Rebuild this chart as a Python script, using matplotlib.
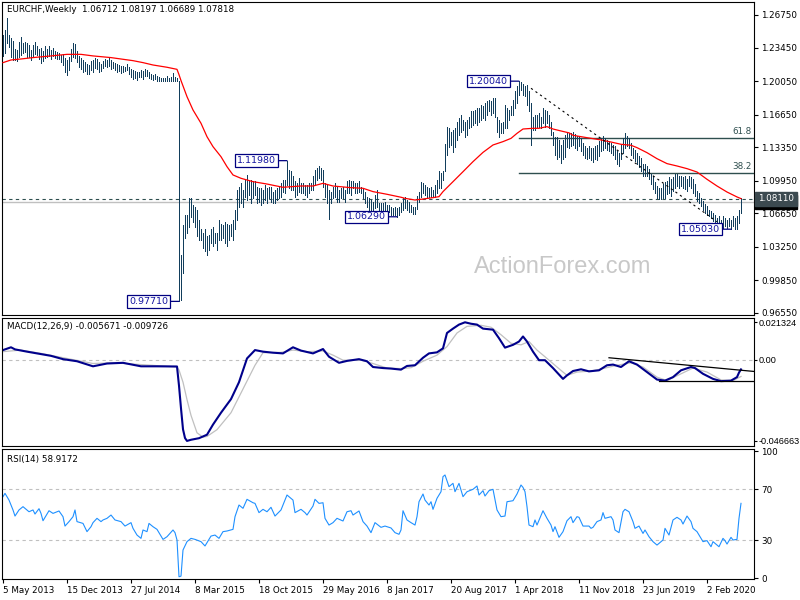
import numpy as np
import pandas as pd
import matplotlib
matplotlib.use("Agg")
import matplotlib.pyplot as plt
import matplotlib.transforms as mtransforms

plt.rcParams["font.family"] = ["DejaVu Sans"]

# weekly EURCHF bars, first bar = week of 5 May 2013
highs = [
    1.247, 1.252, 1.264, 1.247, 1.244, 1.241, 1.233, 1.232, 1.240, 1.245,
    1.239, 1.240, 1.239, 1.237, 1.232, 1.237, 1.240, 1.236, 1.233, 1.234,
    1.231, 1.236, 1.233, 1.236, 1.232, 1.234, 1.231, 1.230, 1.229, 1.227,
    1.228, 1.224, 1.222, 1.225, 1.233, 1.239, 1.238, 1.231, 1.226, 1.224,
    1.222, 1.220, 1.218, 1.217, 1.221, 1.222, 1.224, 1.223, 1.220, 1.218,
    1.221, 1.223, 1.222, 1.224, 1.222, 1.220, 1.219, 1.218, 1.217, 1.216,
    1.216, 1.215, 1.218, 1.215, 1.213, 1.212, 1.211, 1.210, 1.210, 1.212,
    1.211, 1.213, 1.212, 1.210, 1.208, 1.207, 1.208, 1.206, 1.205, 1.204,
    1.2035, 1.204, 1.206, 1.204, 1.205, 1.209, 1.205, 1.2035, 1.2010,
    1.024, 1.055, 1.065, 1.065, 1.082, 1.082, 1.075, 1.073, 1.070, 1.060,
    1.051, 1.046, 1.050, 1.043, 1.044, 1.050, 1.053, 1.046, 1.046, 1.060,
    1.056, 1.055, 1.058, 1.056, 1.055, 1.056, 1.060, 1.070, 1.090, 1.093,
    1.097, 1.090, 1.100, 1.105, 1.100, 1.100, 1.099, 1.099, 1.093, 1.092,
    1.092, 1.090, 1.095, 1.092, 1.093, 1.093, 1.088, 1.090, 1.092, 1.093,
    1.097, 1.100, 1.100, 1.1198, 1.110, 1.109, 1.104, 1.099, 1.097, 1.102,
    1.097, 1.097, 1.095, 1.095, 1.097, 1.097, 1.104, 1.110, 1.112, 1.114,
    1.112, 1.110, 1.097, 1.095, 1.090, 1.088, 1.093, 1.097, 1.093, 1.090,
    1.092, 1.093, 1.090, 1.099, 1.100, 1.099, 1.099, 1.097, 1.097, 1.099,
    1.093, 1.092, 1.088, 1.083, 1.082, 1.080, 1.078, 1.085, 1.090, 1.077,
    1.077, 1.077, 1.078, 1.075, 1.075, 1.073, 1.072, 1.073, 1.072, 1.073,
    1.077, 1.082,
    1.083, 1.080, 1.078, 1.075, 1.073, 1.073, 1.084, 1.088, 1.098, 1.097,
    1.095, 1.093, 1.092, 1.093, 1.090, 1.095, 1.100, 1.109, 1.107, 1.109,
    1.137, 1.154, 1.153, 1.149, 1.151, 1.153, 1.159, 1.163, 1.166, 1.161,
    1.159, 1.161, 1.164, 1.170, 1.170, 1.171, 1.173, 1.173, 1.176, 1.175,
    1.178, 1.180, 1.181, 1.180, 1.183, 1.183, 1.164, 1.161, 1.158, 1.159,
    1.176, 1.173, 1.171, 1.175, 1.181, 1.190, 1.195, 1.2004, 1.200, 1.198,
    1.195, 1.197, 1.190, 1.178, 1.164, 1.166, 1.166, 1.168, 1.164, 1.173,
    1.171, 1.170, 1.166, 1.159, 1.149, 1.144, 1.144, 1.141, 1.136, 1.141,
    1.146, 1.149,
    1.148, 1.148, 1.149, 1.147, 1.145, 1.145, 1.143, 1.138, 1.135, 1.133,
    1.135, 1.133, 1.133, 1.135, 1.136, 1.140, 1.143, 1.145, 1.143, 1.141,
    1.140, 1.138, 1.136, 1.135, 1.130, 1.128, 1.136, 1.143, 1.1475, 1.145,
    1.143, 1.138, 1.133, 1.131, 1.128, 1.125, 1.123, 1.116, 1.116, 1.114,
    1.111, 1.106, 1.104, 1.098, 1.094, 1.092, 1.092, 1.096, 1.098, 1.099,
    1.103, 1.101, 1.103, 1.106, 1.106, 1.104, 1.104, 1.103, 1.104, 1.101,
    1.104, 1.103, 1.101, 1.096, 1.089, 1.087, 1.082, 1.079, 1.076, 1.074,
    1.070, 1.069, 1.067, 1.065, 1.062, 1.064, 1.060, 1.064, 1.062, 1.060,
    1.062, 1.060, 1.064, 1.062, 1.064, 1.070, 1.08197,
]
lows = [
    1.226, 1.229, 1.239, 1.235, 1.225, 1.222, 1.222, 1.221, 1.225, 1.227,
    1.229, 1.230, 1.225, 1.225, 1.222, 1.226, 1.228, 1.227, 1.223, 1.219,
    1.221, 1.224, 1.225, 1.226, 1.223, 1.226, 1.224, 1.223, 1.223, 1.220,
    1.217, 1.210, 1.207, 1.212, 1.221, 1.225, 1.224, 1.220, 1.215, 1.213,
    1.210, 1.211, 1.208, 1.208, 1.212, 1.210, 1.214, 1.213, 1.210, 1.211,
    1.214, 1.216, 1.215, 1.216, 1.213, 1.214, 1.212, 1.210, 1.211, 1.209,
    1.210, 1.211, 1.212, 1.208, 1.205, 1.203, 1.204, 1.202, 1.205, 1.205,
    1.203, 1.206, 1.206, 1.204, 1.203, 1.202, 1.203, 1.2005, 1.2005, 1.2004,
    1.2005, 1.2005, 1.2008, 1.2006, 1.2007, 1.2010, 1.2009, 1.2008, 0.9771,
    0.979, 1.006, 1.041, 1.046, 1.053, 1.063, 1.058, 1.053, 1.043, 1.039,
    1.039, 1.031, 1.028, 1.024, 1.029, 1.036, 1.033, 1.036, 1.029, 1.039,
    1.039, 1.041, 1.036, 1.033, 1.039, 1.043, 1.039, 1.050, 1.060, 1.073,
    1.077, 1.073, 1.083, 1.080, 1.085, 1.077, 1.082, 1.085, 1.077, 1.078,
    1.075, 1.077, 1.080, 1.077, 1.082, 1.078, 1.077, 1.077, 1.080, 1.082,
    1.083, 1.088, 1.087, 1.095, 1.092, 1.090, 1.090, 1.083, 1.085, 1.088,
    1.087, 1.087, 1.085, 1.083, 1.087, 1.090, 1.090, 1.095, 1.100, 1.102,
    1.100, 1.093, 1.083, 1.077, 1.061, 1.077, 1.082, 1.083, 1.078, 1.078,
    1.082, 1.082, 1.078, 1.087, 1.087, 1.085, 1.092, 1.087, 1.087, 1.088,
    1.087, 1.082, 1.077, 1.073, 1.070, 1.070, 1.070, 1.072, 1.073, 1.063,
    1.066, 1.066, 1.068, 1.068, 1.068, 1.065, 1.065, 1.065, 1.0629, 1.065,
    1.068, 1.070,
    1.072, 1.070, 1.068, 1.068, 1.066, 1.066, 1.071, 1.078, 1.083, 1.087,
    1.085, 1.083, 1.083, 1.083, 1.083, 1.083, 1.087, 1.092, 1.092, 1.100,
    1.109, 1.126, 1.134, 1.136, 1.129, 1.134, 1.141, 1.146, 1.149, 1.151,
    1.144, 1.146, 1.153, 1.154, 1.156, 1.158, 1.156, 1.159, 1.161, 1.163,
    1.161, 1.166, 1.170, 1.166, 1.168, 1.164, 1.149, 1.144, 1.148, 1.148,
    1.153, 1.153, 1.161, 1.166, 1.166, 1.173, 1.178, 1.186, 1.191, 1.186,
    1.185, 1.176, 1.170, 1.136, 1.151, 1.151, 1.154, 1.154, 1.153, 1.158,
    1.154, 1.158, 1.153, 1.146, 1.136, 1.126, 1.121, 1.124, 1.117, 1.121,
    1.124, 1.134,
    1.133, 1.135, 1.136, 1.133, 1.131, 1.135, 1.130, 1.126, 1.123, 1.121,
    1.123, 1.120, 1.118, 1.121, 1.120, 1.125, 1.130, 1.131, 1.133, 1.131,
    1.130, 1.128, 1.126, 1.121, 1.116, 1.114, 1.121, 1.128, 1.133, 1.135,
    1.133, 1.126, 1.123, 1.119, 1.116, 1.113, 1.109, 1.104, 1.104, 1.104,
    1.101, 1.096, 1.091, 1.087, 1.082, 1.081, 1.081, 1.082, 1.082, 1.086,
    1.087, 1.084, 1.089, 1.092, 1.094, 1.092, 1.094, 1.092, 1.091, 1.089,
    1.094, 1.092, 1.087, 1.084, 1.079, 1.077, 1.074, 1.070, 1.067, 1.065,
    1.064, 1.062, 1.059, 1.057, 1.054, 1.054, 1.052, 1.052, 1.054, 1.052,
    1.054, 1.0503, 1.054, 1.051, 1.051, 1.057, 1.06689,
]
last_open, last_close = 1.06712, 1.07818
marked_level = 1.0811

# red moving average, read at selected weeks
ma_weeks = [0, 4, 9, 15, 24, 29, 32, 39, 45, 54, 60, 65, 70, 75, 82, 87, 88, 89,
            92, 95, 99, 102, 105, 109, 112, 115, 119, 125, 132, 140, 149, 155, 160,
            165, 174, 180, 185, 192, 199, 201, 206, 210, 215, 218, 220, 225, 230,
            235, 240, 245, 250, 254, 257, 260, 265, 268, 272, 275, 279, 283, 285,
            292, 299, 304, 309, 314, 317, 322, 327, 332, 337, 342, 347, 352, 357,
            362, 367, 369]
ma_values = [1.2192, 1.2219, 1.2229, 1.2243, 1.2260, 1.2270, 1.2276, 1.2276, 1.2260,
             1.2243, 1.2226, 1.2212, 1.2192, 1.2168, 1.2145, 1.2124, 1.2070, 1.2010,
             1.1847, 1.1712, 1.1577, 1.1441, 1.1340, 1.1238, 1.1137, 1.1053, 1.1019,
             1.0985, 1.0961, 1.0928, 1.0941, 1.0941, 1.0968, 1.0941, 1.0924, 1.0918,
             1.0884, 1.0857, 1.0827, 1.0816, 1.0799, 1.0809, 1.0823, 1.0833, 1.0884,
             1.0985, 1.1086, 1.1188, 1.1282, 1.1357, 1.1391, 1.1424, 1.1475, 1.1519,
             1.1526, 1.1526, 1.1543, 1.1519, 1.1499, 1.1480, 1.1455, 1.1431, 1.1408,
             1.1387, 1.1364, 1.1354, 1.1330, 1.1279, 1.1218, 1.1168, 1.1144, 1.1117,
             1.1083, 1.1009, 1.0941, 1.0880, 1.0830, 1.0813]

trend_weeks = [264, 357]
trend_prices = [1.1932, 1.0579]
fib_ratios = [0.618, 0.382]
swing_high_weeks = [142, 258]
swing_low_weeks = [88, 197, 364]

macd_weeks = [0, 4, 6, 12, 19, 24, 30, 37, 45, 52, 60, 69, 77, 87, 88, 89, 90, 91,
              92, 94, 98, 102, 105, 109, 114, 118, 122, 126, 130, 135, 140, 145, 149,
              155, 160, 163, 168, 172, 178, 182, 185, 190, 194, 199, 202, 206, 210,
              213, 217, 220, 222, 225, 228, 231, 234, 237, 240, 245, 248, 251, 255,
              258, 260, 262, 265, 268, 271, 275, 280, 282, 285, 289, 293, 298, 302,
              305, 309, 313, 317, 322, 327, 331, 335, 339, 344, 346, 350, 355, 359,
              364, 367, 368, 369]
macd_values = [0.0054, 0.0070, 0.0058, 0.0045, 0.0031, 0.0021, 0.0002, -0.0010,
               -0.0039, -0.0023, -0.0019, -0.0039, -0.0039, -0.0040, -0.0150, -0.0280,
               -0.0400, -0.0450, -0.046663, -0.0460, -0.0451, -0.0431, -0.0373, -0.0305,
               -0.0227, -0.0130, 0.0006, 0.0054, 0.0045, 0.0039, 0.0035, 0.0070, 0.0051,
               0.0035, 0.0060, 0.0016, -0.0019, -0.0008, 0.0002, -0.0010, -0.0043,
               -0.0049, -0.0052, -0.0058, -0.0037, -0.0033, 0.0010, 0.0035, 0.0041,
               0.0064, 0.0152, 0.0177, 0.0200, 0.021324, 0.0205, 0.0200, 0.0177, 0.0171,
               0.0122, 0.0068, 0.0084, 0.0103, 0.0132, 0.0103, 0.0045, -0.0004, -0.0004,
               -0.0049, -0.0111, -0.0091, -0.0066, -0.0056, -0.0068, -0.0062, -0.0033,
               -0.0029, -0.0043, -0.0010, -0.0029, -0.0072, -0.0115, -0.0121, -0.0101,
               -0.0062, -0.0043, -0.0049, -0.0082, -0.0111, -0.0124, -0.0121, -0.0101,
               -0.0075, -0.005671]
signal_weeks = [0, 9, 19, 32, 45, 55, 69, 87, 88, 90, 92, 94, 97, 100, 102, 107, 114,
                120, 126, 130, 139, 145, 152, 160, 165, 170, 179, 185, 192, 199, 204,
                210, 217, 222, 227, 232, 239, 244, 249, 254, 259, 263, 267, 272, 277,
                282, 287, 294, 300, 307, 314, 320, 327, 332, 339, 345, 352, 359, 365,
                369]
signal_values = [0.0045, 0.0054, 0.0035, 0.0006, -0.0023, -0.0019, -0.0029, -0.0043,
                 -0.0060, -0.0130, -0.0230, -0.0320, -0.0420, -0.0445, -0.0441, -0.0402,
                 -0.0305, -0.0169, -0.0033, 0.0039, 0.0041, 0.0054, 0.0045, 0.0049,
                 0.0025, -0.0004, -0.0004, -0.0023, -0.0049, -0.0052, -0.0047, -0.0010,
                 0.0025, 0.0074, 0.0152, 0.0190, 0.0196, 0.0185, 0.0142, 0.0093, 0.0084,
                 0.0103, 0.0054, 0.0006, -0.0043, -0.0091, -0.0072, -0.0066, -0.0052,
                 -0.0033, -0.0019, -0.0043, -0.0101, -0.0121, -0.0082, -0.0049, -0.0072,
                 -0.0117, -0.0121, -0.009726]
macd_res_weeks, macd_res_values = [303, 376], [0.0010, -0.0069]
macd_sup_weeks, macd_sup_values = [328, 376], [-0.0126, -0.0126]

rsi_weeks = [0, 1, 3, 5, 6, 8, 10, 11, 13, 15, 16, 18, 19, 20, 23, 25, 28, 30, 31, 33,
             35, 36, 37, 40, 42, 44, 45, 47, 49, 50, 52, 54, 56, 59, 61, 64, 65, 67, 69,
             70, 72, 73, 75, 77, 80, 82, 85, 86, 87, 88, 89, 90, 92, 94, 96, 99, 101,
             104, 106, 108, 110, 112, 115, 116, 118, 120, 122, 125, 126, 128, 130, 132,
             134, 136, 139, 141, 142, 145, 146, 149, 151, 152, 155, 156, 158, 160, 161,
             163, 165, 167, 170, 172, 174, 175, 178, 180, 182, 184, 186, 189, 191, 194,
             196, 198, 199, 200, 202, 204, 206, 207, 208, 210, 211, 213, 214, 215, 217,
             219, 220, 221, 223, 225, 226, 228, 230, 232, 235, 237, 238, 240, 241, 243,
             245, 247, 249, 251, 252, 255, 257, 259, 260, 261, 262, 263, 265, 266, 267,
             270, 272, 274, 275, 276, 278, 280, 282, 284, 285, 287, 288, 290, 293, 294,
             295, 297, 299, 300, 301, 304, 305, 306, 308, 310, 311, 313, 315, 316, 318,
             320, 321, 323, 325, 327, 330, 331, 333, 335, 337, 339, 340, 342, 344, 345,
             347, 349, 350, 352, 354, 355, 357, 358, 360, 361, 362, 364, 365, 367, 368,
             369]
rsi_values = [64.2, 66.8, 61.5, 53.7, 48.9, 53.7, 56.3, 55.0, 52.3, 53.7, 50.5, 54.7,
              51.0, 45.2, 53.1, 51.0, 52.9, 48.4, 41.0, 44.5, 48.4, 53.7, 44.5, 43.1,
              36.6, 40.5, 43.7, 47.1, 44.5, 45.8, 47.1, 49.7, 45.8, 44.5, 41.0, 43.7,
              39.2, 33.9, 31.3, 37.9, 36.6, 43.1, 40.5, 38.4, 30.5, 32.6, 37.9, 35.8,
              30.0, 1.0, 1.5, 22.1, 28.7, 31.3, 30.5, 28.7, 25.3, 33.1, 33.9, 31.3, 36.6,
              37.1, 38.4, 48.4, 57.6, 55.0, 62.1, 59.4, 58.9, 51.6, 54.2, 52.3, 55.8,
              48.9, 53.7, 61.5, 65.5, 61.5, 51.6, 54.2, 51.6, 49.7, 56.8, 62.1, 58.9,
              59.4, 47.1, 41.8, 43.7, 47.1, 45.0, 52.3, 53.1, 49.7, 52.9, 44.5, 41.0,
              35.8, 43.7, 40.0, 41.0, 39.5, 35.8, 34.5, 37.9, 53.1, 45.8, 43.7, 41.8,
              48.4, 60.2, 66.3, 61.5, 57.6, 60.2, 54.2, 62.9, 68.1, 80.0, 81.3, 72.1,
              74.7, 68.1, 74.7, 64.2, 68.1, 70.0, 72.6, 65.5, 68.9, 64.7, 68.9, 70.0,
              53.7, 48.4, 48.9, 60.2, 61.0, 66.3, 73.4, 71.5, 68.1, 56.3, 41.8, 40.5,
              45.8, 41.8, 53.1, 47.1, 41.8, 36.6, 40.5, 32.1, 36.6, 45.2, 48.4, 43.7,
              48.4, 47.9, 41.0, 41.0, 39.2, 40.0, 44.5, 45.8, 51.6, 47.1, 48.4, 45.8,
              37.9, 35.8, 52.3, 54.2, 52.3, 44.5, 39.2, 41.0, 35.2, 37.9, 32.6, 28.7,
              26.0, 30.0, 39.2, 33.9, 45.8, 47.9, 45.8, 42.6, 48.9, 44.5, 39.2, 36.6,
              31.3, 28.7, 29.5, 24.7, 28.7, 26.0, 24.7, 31.3, 29.5, 26.8, 32.1, 30.0,
              30.5, 47.1, 58.9172]

price_ticks = [1.26750, 1.23450, 1.20050, 1.16650, 1.13350, 1.09950, 1.06650,
               1.03250, 0.99850, 0.96550]
macd_ticks = [0.021324, 0.0, -0.046663]
macd_tick_labels = ["0.021324", "0.00", "-0.046663"]
rsi_ticks = [100, 70, 30, 0]
rsi_levels = [70, 30]

weeks = np.arange(len(highs))
dates = pd.date_range("2013-05-05", periods=len(highs), freq="7D")
date_ticks = weeks[::32]

bar_color = "#123e5c"
navy = "#000080"
small = 6.3

fig = plt.figure(figsize=(8, 6), dpi=100)
ax = fig.add_axes([0.0025, 0.47417, 0.94, 0.5225])
ax_macd = fig.add_axes([0.0025, 0.25667, 0.94, 0.2125], sharex=ax)
ax_rsi = fig.add_axes([0.0025, 0.03417, 0.94, 0.2175], sharex=ax)

# price panel
ax.axhline(last_close, color="#c0c0c0", lw=1.0, zorder=1)
ax.axhline(marked_level, color="#2f4f4f", lw=0.8, ls=(0, (3, 3)), zorder=1)
ax.vlines(weeks, lows, highs, color=bar_color, lw=0.6, antialiased=False, zorder=2)
ax.plot(ma_weeks, ma_values, color="red", lw=0.9, zorder=3)
ax.plot(trend_weeks, trend_prices, color="black", lw=0.8, ls=(0, (2, 3)), zorder=3)

# fibonacci levels from the 2018 high down to the 2020 low
top_week = swing_high_weeks[-1]
top, bottom = highs[top_week], min(lows[top_week:])
for r in fib_ratios:
    lvl = bottom + r * (top - bottom)
    ax.plot([top_week, 400], [lvl, lvl], color="#2f4f4f", lw=1.0, zorder=1)
    ax.annotate(f"{r * 100:.1f}", xy=(1, lvl),
                xycoords=mtransforms.blended_transform_factory(ax.transAxes, ax.transData),
                xytext=(-2, 2), textcoords="offset pixels", ha="right", va="bottom",
                fontsize=small, color="#2f4f4f")


def swing_label(week, price):
    ax.annotate(f"{price:.5f}", xy=(week, price), xytext=(-11, 0),
                textcoords="offset pixels", ha="right", va="center",
                fontsize=6.8, color="#1414a0", zorder=5,
                bbox=dict(boxstyle="square,pad=0.18", fc="white", ec=navy, lw=0.9),
                arrowprops=dict(arrowstyle="-", color=navy, lw=0.9,
                                shrinkA=0, shrinkB=0))


for w in swing_high_weeks:
    swing_label(w, highs[w])
for w in swing_low_weeks:
    swing_label(w, lows[w])

for val, fc in [(last_close, "black"), (marked_level, "#3c4a50")]:
    ax.annotate(f"{val:.5f}", xy=(1, val),
                xycoords=mtransforms.blended_transform_factory(ax.transAxes, ax.transData),
                xytext=(4, 0), textcoords="offset pixels", ha="left", va="center",
                fontsize=small, color="white", annotation_clip=False,
                bbox=dict(boxstyle="square,pad=0.3", fc=fc, ec=fc))

ax.text(0.0066, 0.99,
        f"EURCHF,Weekly  {last_open:.5f} {highs[-1]:.5f} {lows[-1]:.5f} {last_close:.5f}",
        transform=ax.transAxes, ha="left", va="top", fontsize=small)
ax.text(0.746, 0.156, "ActionForex.com", transform=ax.transAxes, ha="center",
        va="center", fontsize=17, family="Liberation Sans", color="#c8c8c8", zorder=0)

ax.set_ylim(0.96279, 1.28068)
ax.set_yticks(price_ticks)
ax.set_yticklabels([f"{v:.5f}" for v in price_ticks])

# MACD panel
ax_macd.axhline(0, color="#c0c0c0", lw=0.8, ls=(0, (3, 3)))
ax_macd.plot(signal_weeks, signal_values, color="#c0c0c0", lw=0.9)
ax_macd.plot(macd_weeks, macd_values, color="#00008b", lw=1.5)
ax_macd.plot(macd_res_weeks, macd_res_values, color="black", lw=0.9)
ax_macd.plot(macd_sup_weeks, macd_sup_values, color="black", lw=0.9)
ax_macd.text(0.0066, 0.975,
             f"MACD(12,26,9) {macd_values[-1]:.6f} {signal_values[-1]:.6f}",
             transform=ax_macd.transAxes, ha="left", va="top", fontsize=small)
ax_macd.set_ylim(-0.04957, 0.0235)
ax_macd.set_yticks(macd_ticks)
ax_macd.set_yticklabels(macd_tick_labels, family="Liberation Sans", fontsize=6.6)

# RSI panel
for lvl in rsi_levels:
    ax_rsi.axhline(lvl, color="#c0c0c0", lw=0.8, ls=(0, (3, 3)))
ax_rsi.plot(rsi_weeks, rsi_values, color="#1e90ff", lw=0.8)
ax_rsi.text(0.0066, 0.955, f"RSI(14) {rsi_values[-1]:.4f}",
            transform=ax_rsi.transAxes, ha="left", va="top", fontsize=small)
ax_rsi.set_ylim(-1.16, 101.8)
ax_rsi.set_yticks(rsi_ticks)
ax_rsi.set_yticklabels([str(v) for v in rsi_ticks])

ax_rsi.set_xlim(-0.5, 375.5)
ax_rsi.set_xticks(date_ticks)
ax_rsi.set_xticklabels([f"{d.day} {d.strftime('%b %Y')}" for d in dates[date_ticks]],
                       ha="left")

for a in (ax, ax_rsi):
    a.yaxis.tick_right()
    a.tick_params(axis="y", direction="out", length=3, width=0.8,
                  labelsize=small, pad=2)
ax_macd.yaxis.tick_right()
ax_macd.tick_params(axis="y", direction="out", length=2, width=0.8, pad=1)
for a in (ax, ax_macd, ax_rsi):
    for s in a.spines.values():
        s.set_linewidth(0.8)
for a in (ax, ax_macd):
    a.tick_params(axis="x", bottom=False, labelbottom=False)
ax_rsi.tick_params(axis="x", direction="out", length=3, width=0.8,
                   labelsize=small, pad=2)

fig.savefig("out.png", dpi=100)
